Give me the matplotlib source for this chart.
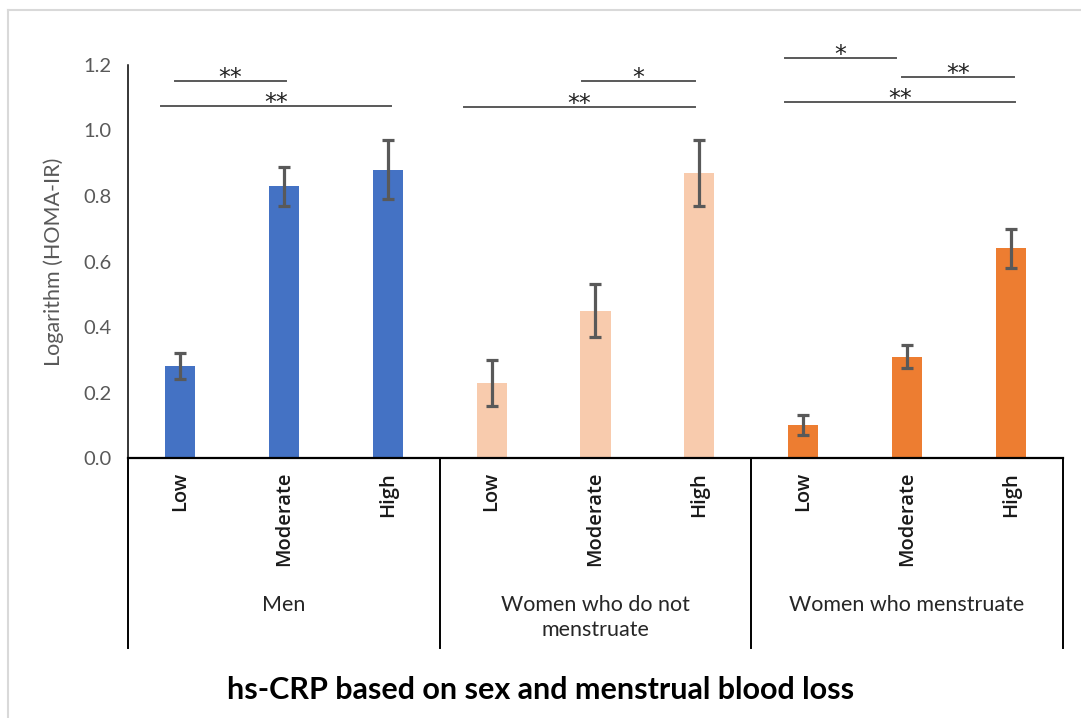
import numpy as np
import matplotlib
matplotlib.use("Agg")
from matplotlib import pyplot as plt
from matplotlib.lines import Line2D

groups = ["Men", "Women who do not\nmenstruate", "Women who menstruate"]
levels = ["Low", "Moderate", "High"]
group_colors = ["#4472C4", "#F8CBAD", "#ED7D31"]

# log(HOMA-IR) means and error half-widths, per group: Low, Moderate, High
men_mean = [0.28, 0.83, 0.88]
men_err = [0.04, 0.06, 0.09]
women_nm_mean = [0.23, 0.45, 0.87]
women_nm_err = [0.07, 0.08, 0.10]
women_m_mean = [0.10, 0.31, 0.64]
women_m_err = [0.03, 0.035, 0.06]

# significance brackets: start, end (category positions), height, label
sig_x0 = [-0.05, -0.18, 3.87, 2.73, 5.82, 6.95, 5.82]
sig_x1 = [1.02, 2.03, 4.96, 4.96, 6.89, 8.03, 8.04]
sig_y = [1.150, 1.076, 1.150, 1.073, 1.220, 1.162, 1.086]
sig_lab = ["**", "**", "*", "**", "*", "**", "**"]

means = men_mean + women_nm_mean + women_m_mean
errs = men_err + women_nm_err + women_m_err
colors = [c for c in group_colors for _ in levels]
x = np.arange(len(means))

fig = plt.figure(figsize=(10.81, 7.18), dpi=100)
ax = fig.add_axes([0.1184, 0.362, 0.8649, 0.5475])

ax.bar(x, means, width=0.29, color=colors, zorder=2)
ax.errorbar(x, means, yerr=errs, fmt="none", ecolor="#595959",
            elinewidth=2.3, capsize=4.5, capthick=2.3, zorder=3)

for x0, x1, y, lab in zip(sig_x0, sig_x1, sig_y, sig_lab):
    ax.plot([x0, x1], [y, y], color="#595959", lw=1.4, clip_on=False)
    ax.text((x0 + x1) / 2, y - 0.012, lab, ha="center", va="baseline",
            fontsize=17, color="#222222", clip_on=False)

ax.set_xlim(-0.5, len(means) - 0.5)
ax.set_ylim(0, 1.2)
ax.set_yticks(np.arange(0, 1.21, 0.2))
ax.set_yticklabels([f"{v:.1f}" for v in np.arange(0, 1.21, 0.2)],
                   fontsize=14.5, color="#595959", family="Lato")
ax.tick_params(axis="y", length=0, pad=12)

ax.set_xticks(x)
ax.set_xticklabels(levels * len(groups), rotation=90, fontsize=14.5,
                   color="#1a1a1a", va="top", family="Open Sans",
                   fontweight="semibold")
ax.tick_params(axis="x", length=0, pad=10)

ax.spines["top"].set_visible(False)
ax.spines["right"].set_visible(False)
ax.spines["left"].set_linewidth(1.1)
ax.spines["bottom"].set_linewidth(1.6)

ax.set_ylabel("Logarithm (HOMA-IR)", fontsize=15.5, color="#595959",
              family="Lato", labelpad=14)

# group dividers and group labels under the axis
trans = ax.get_xaxis_transform()
for b in np.arange(-0.5, len(means), 3):
    ax.add_line(Line2D([b, b], [0, -0.483], transform=trans, color="black",
                       lw=1.4, clip_on=False))
for i, g in enumerate(groups):
    ax.text(i * 3 + 1, -0.348, g, transform=trans, ha="center", va="top",
            fontsize=15.5, color="#262626", family="Lato", linespacing=1.35)

fig.text(0.5, 1 - 690 / 718, "hs-CRP based on sex and menstrual blood loss",
         ha="center", va="center", fontsize=22, fontweight="bold",
         family="Lato", color="black")

# light frame of the original screenshot
fig.add_artist(Line2D([8 / 1081, 8 / 1081], [0, 1 - 10 / 718],
                      transform=fig.transFigure, color="#d9d9d9", lw=1.5))
fig.add_artist(Line2D([8 / 1081, 1], [1 - 10 / 718, 1 - 10 / 718],
                      transform=fig.transFigure, color="#d9d9d9", lw=1.5))

fig.savefig("out.png", dpi=100)
